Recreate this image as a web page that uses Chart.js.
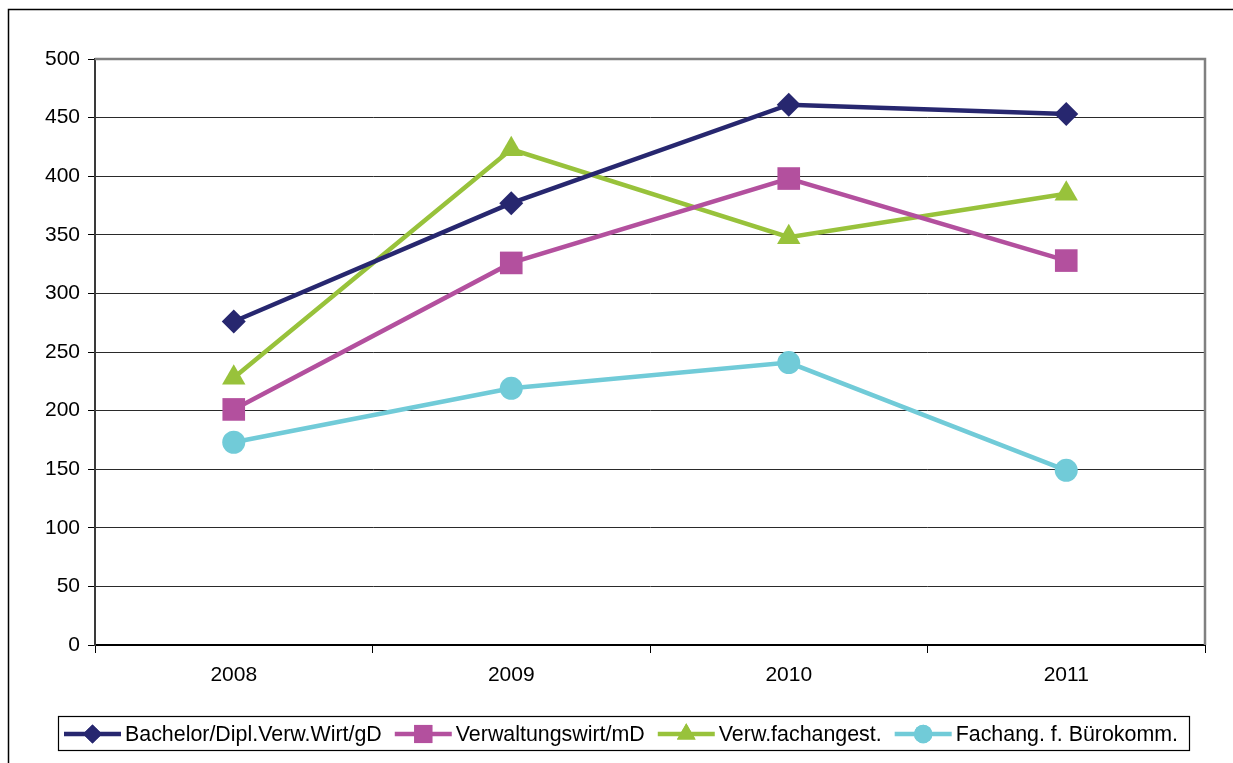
<!DOCTYPE html>
<html>
<head>
<meta charset="utf-8">
<script src="https://cdn.jsdelivr.net/npm/chart.js@4.4.1/dist/chart.umd.min.js"></script>
<style>
html,body{margin:0;padding:0;background:#fff;overflow:hidden;}
#wrap{position:relative;width:1233px;height:763px;}
</style>
</head>
<body>
<div id="wrap"><canvas id="c" width="1233" height="763"></canvas></div>
<script>
const years = ['2008', '2009', '2010', '2011'];
const bachelor = [276, 377, 461, 453];
const verwaltungswirt = [201, 326, 398, 328];
const verwFachangest = [228, 423, 348, 385];
const fachangBuero = [173, 219, 241, 149];
const seriesNames = ['Bachelor/Dipl.Verw.Wirt/gD', 'Verwaltungswirt/mD', 'Verw.fachangest.', 'Fachang. f. Bürokomm.'];
const yTicks = [0, 50, 100, 150, 200, 250, 300, 350, 400, 450, 500];

const FONT = '"Liberation Sans", Arial, sans-serif';

function ds(label, data, color, style, radius) {
  return {
    label, data,
    borderColor: color, backgroundColor: color,
    pointBackgroundColor: color, pointBorderColor: color,
    borderWidth: 4.5, pointStyle: style, pointRadius: radius, pointHoverRadius: radius,
    pointBorderWidth: 0, tension: 0, fill: false
  };
}

const frame = {
  id: 'frame',
  beforeDraw(chart) {
    const ctx = chart.ctx;
    ctx.save();
    ctx.strokeStyle = '#000';
    ctx.lineWidth = 1.5;
    ctx.strokeRect(8.5, 9.5, 1400, 900);
    ctx.restore();
  },
  beforeDatasetsDraw(chart) {
    const ctx = chart.ctx, a = chart.chartArea;
    ctx.save();
    ctx.strokeStyle = '#808080';
    ctx.lineWidth = 2.5;
    ctx.beginPath();
    ctx.moveTo(a.left, a.top);
    ctx.lineTo(a.right, a.top);
    ctx.lineTo(a.right, a.bottom);
    ctx.stroke();
    ctx.restore();
  },
  afterDraw(chart) {
    const ctx = chart.ctx;
    ctx.save();
    ctx.strokeStyle = '#000';
    ctx.lineWidth = 1.2;
    ctx.strokeRect(58.5, 716.5, 1131, 34);
    ctx.font = '21.4px ' + FONT;
    ctx.textBaseline = 'middle';
    const cy = 734;
    let x = 64;
    chart.data.datasets.forEach((d) => {
      ctx.strokeStyle = d.borderColor;
      ctx.lineWidth = 4.5;
      ctx.beginPath();
      ctx.moveTo(x, cy);
      ctx.lineTo(x + 57, cy);
      ctx.stroke();
      ctx.fillStyle = d.borderColor;
      Chart.helpers.drawPoint(ctx, {pointStyle: d.pointStyle, radius: d.pointRadius * 0.8, borderWidth: 0}, x + 28.5, cy);
      ctx.fill();
      ctx.fillStyle = '#000';
      ctx.fillText(d.label, x + 61, cy + 1);
      x += 61 + ctx.measureText(d.label).width + 13;
    });
    ctx.restore();
  }
};

new Chart(document.getElementById('c'), {
  type: 'line',
  data: {
    labels: years,
    datasets: [
      ds(seriesNames[0], bachelor, '#27276f', 'rectRot', 12),
      ds(seriesNames[1], verwaltungswirt, '#b3509e', 'rect', 16),
      ds(seriesNames[2], verwFachangest, '#98c23b', 'triangle', 13.5),
      ds(seriesNames[3], fachangBuero, '#71cbd8', 'circle', 11.5)
    ]
  },
  options: {
    responsive: false,
    animation: false,
    layout: {padding: {left: 0, top: 59, right: 28, bottom: 0}},
    plugins: {legend: {display: false}, tooltip: {enabled: false}},
    scales: {
      x: {
        offset: true,
        grid: {offset: true, drawOnChartArea: false, drawTicks: true, tickLength: 8, tickColor: '#000', tickWidth: 1},
        border: {display: true, color: '#000', width: 2},
        ticks: {color: '#000', font: {family: FONT, size: 21}, padding: 10, maxRotation: 0},
        afterFit(s) { s.height = 118; }
      },
      y: {
        min: 0, max: 500,
        afterBuildTicks(s) { s.ticks = yTicks.map(v => ({value: v})); },
        grid: {
          color: (c) => c.tick && c.tick.value === 500 ? 'rgba(0,0,0,0)' : '#2a2a2a',
          lineWidth: 1, tickLength: 7, tickColor: '#000', tickWidth: 1
        },
        border: {display: true, color: '#3a3a3a', width: 2},
        ticks: {color: '#000', font: {family: FONT, size: 21}, padding: 8},
        afterFit(s) { s.width = 95; }
      }
    }
  },
  plugins: [frame]
});
</script>
</body>
</html>
